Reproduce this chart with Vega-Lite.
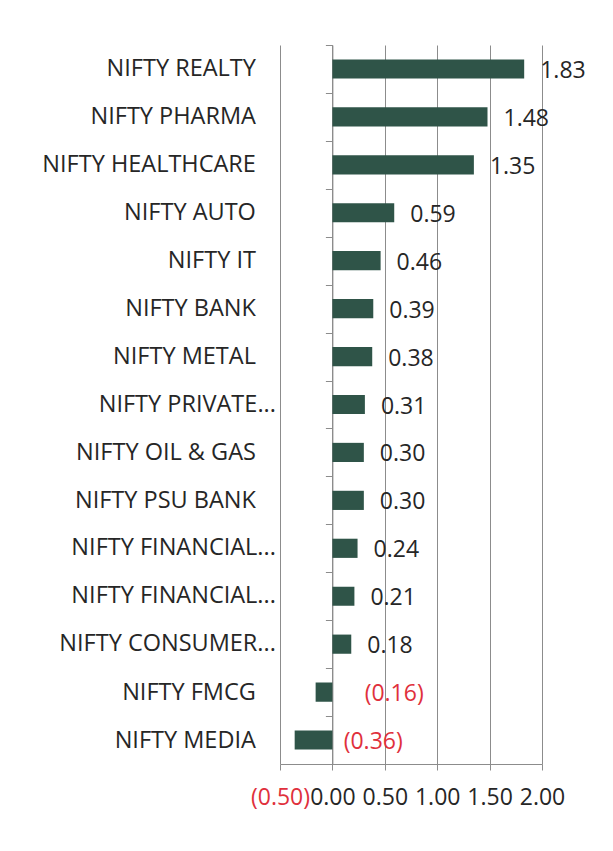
{
  "$schema": "https://vega.github.io/schema/vega-lite/v6.json",
  "autosize": {"type": "none"},
  "padding": {"left": 280, "top": 45, "right": 71, "bottom": 87},
  "width": 262,
  "height": 719,
  "background": "white",
  "config": {
    "view": {"stroke": null},
    "font": "Open Sans"
  },
  "data": {
    "values": [
      {"index": "NIFTY REALTY", "value": 1.83},
      {"index": "NIFTY PHARMA", "value": 1.48},
      {"index": "NIFTY HEALTHCARE", "value": 1.35},
      {"index": "NIFTY AUTO", "value": 0.59},
      {"index": "NIFTY IT", "value": 0.46},
      {"index": "NIFTY BANK", "value": 0.39},
      {"index": "NIFTY METAL", "value": 0.38},
      {"index": "NIFTY PRIVATE...", "value": 0.31},
      {"index": "NIFTY OIL & GAS", "value": 0.30},
      {"index": "NIFTY PSU BANK", "value": 0.30},
      {"index": "NIFTY FINANCIAL...", "value": 0.24},
      {"index": "NIFTY FINANCIAL... ", "value": 0.21},
      {"index": "NIFTY CONSUMER...", "value": 0.18},
      {"index": "NIFTY FMCG", "value": -0.16},
      {"index": "NIFTY MEDIA", "value": -0.36}
    ]
  },
  "encoding": {
    "x": {
      "field": "value",
      "type": "quantitative",
      "scale": {"domain": [-0.5, 2], "nice": false, "zero": false},
      "axis": {
        "title": null,
        "values": [-0.5, 0, 0.5, 1, 1.5, 2],
        "format": "(.2f",
        "grid": true,
        "gridColor": "#8c8c8c",
        "domainColor": "#8c8c8c",
        "tickColor": "#8c8c8c",
        "tickSize": 6,
        "labelPadding": 16,
        "labelFontSize": 23,
        "labelFont": "Open Sans",
        "labelColor": {"condition": {"test": "datum.value < 0", "value": "#e0303c"}, "value": "#262626"},
        "labelFlush": false,
        "labelOverlap": false
      }
    }
  },
  "layer": [
    {
      "mark": {"type": "bar", "color": "#2f5448", "height": {"band": 0.4}},
      "encoding": {
        "y": {
          "field": "index",
          "type": "nominal",
          "sort": null,
          "scale": {"paddingInner": 0, "paddingOuter": 0},
          "axis": {
            "orient": "left",
            "title": null,
            "offset": -52.4,
            "domainColor": "#8c8c8c",
            "tickColor": "#8c8c8c",
            "tickSize": 7,
            "tickBand": "extent",
            "labelPadding": 70,
            "labelExpr": "indexof(datum.label, '...') >= 0 ? '' : datum.label",
            "labelFontSize": 23.5,
            "labelColor": "#262626",
            "labelFont": "Open Sans",
            "labelLimit": 300
          }
        }
      }
    },
    {
      "transform": [{"filter": "datum.value >= 0"}],
      "mark": {"type": "text", "align": "left", "baseline": "middle", "dx": 16, "dy": 2, "fontSize": 23, "color": "#262626"},
      "encoding": {
        "y": {
          "field": "index",
          "type": "nominal",
          "sort": null,
          "axis": {
            "orient": "left",
            "title": null,
            "offset": -52.4,
            "domain": false,
            "ticks": false,
            "labelPadding": 57,
            "labelExpr": "indexof(datum.label, '...') >= 0 ? datum.label : ''",
            "labelFontSize": 23.5,
            "labelColor": "#262626",
            "labelFont": "Open Sans",
            "labelLimit": 300
          }
        },
        "text": {"field": "value", "type": "quantitative", "format": "(.2f"}
      }
    },
    {
      "transform": [{"filter": "datum.value < 0"}],
      "mark": {"type": "text", "align": "left", "baseline": "middle", "dx": 49, "dy": 2, "fontSize": 23, "color": "#e0303c"},
      "encoding": {
        "y": {"field": "index", "type": "nominal", "sort": null, "axis": null},
        "text": {"field": "value", "type": "quantitative", "format": "(.2f"}
      }
    }
  ],
  "resolve": {"axis": {"y": "independent"}}
}
